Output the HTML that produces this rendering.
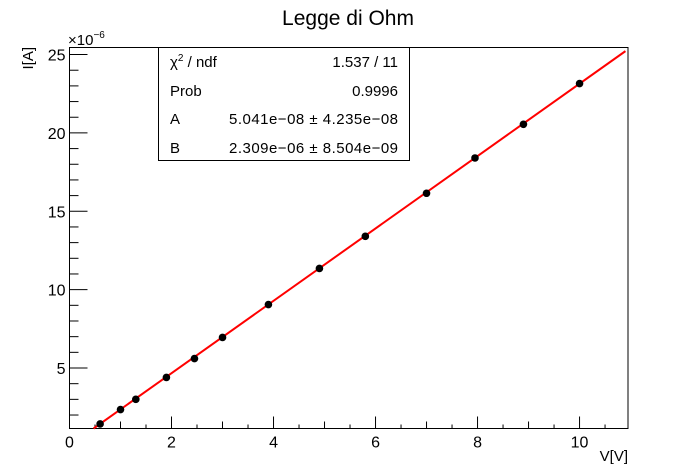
<!DOCTYPE html>
<html><head><meta charset="utf-8"><style>
body{margin:0;background:#fff;}
svg{display:block;font-family:"Liberation Sans",sans-serif;}
</style></head><body>
<svg id="c" width="698" height="476" xmlns="http://www.w3.org/2000/svg">
<text x="348" y="25" font-size="21" text-anchor="middle">Legge di Ohm</text>
<rect x="69.5" y="47.5" width="558.5" height="381" fill="none" stroke="#000" stroke-width="1"/>
<g id="axes"></g>
<g id="fit"></g>
<g id="pts"></g>
<text x="628" y="461" font-size="15" text-anchor="end">V[V]</text>
<text transform="translate(33,47) rotate(-90)" font-size="15" text-anchor="end">I[A]</text>
<text x="68" y="45" font-size="15">×10<tspan dy="-7" font-size="10">−6</tspan></text>
<g>
<rect x="158.5" y="47.5" width="251" height="113" fill="#fff" stroke="#000"/>
<text x="170" y="67" font-size="15">χ<tspan dy="-6" font-size="10">2</tspan><tspan dy="6"> / ndf</tspan></text>
<text x="398" y="67" font-size="15" text-anchor="end">1.537 / 11</text>
<text x="170" y="96" font-size="15">Prob</text>
<text x="398" y="96" font-size="15" text-anchor="end">0.9996</text>
<text x="170" y="124" font-size="15">A</text>
<text x="398" y="124" font-size="15" text-anchor="end" textLength="169">5.041e−08 ± 4.235e−08</text>
<text x="170" y="153" font-size="15">B</text>
<text x="398" y="153" font-size="15" text-anchor="end" textLength="169">2.309e−06 ± 8.504e−09</text>
</g>
</svg>
<script>
const xVals=[0.6,1.0,1.3,1.9,2.45,3.0,3.9,4.9,5.8,7.0,7.95,8.9,10.0];
const yVals=[1.43,2.35,3.0,4.4,5.6,6.95,9.05,11.35,13.4,16.15,18.4,20.55,23.15];
const xTicks=[0,2,4,6,8,10];
const yTicks=[5,10,15,20,25];
const fitA=0.05041, fitB=2.309;
const X0=69.5,X1=628,Y0=428.5,Y1=47.5,xmin=0,xmax=10.95,ymin=1.14,ymax=25.45;
const sx=v=>X0+(v-xmin)/(xmax-xmin)*(X1-X0);
const sy=v=>Y0-(v-ymin)/(ymax-ymin)*(Y0-Y1);
const NS="http://www.w3.org/2000/svg";
function mk(t,a,p){const e=document.createElementNS(NS,t);for(const k in a)e.setAttribute(k,a[k]);p.appendChild(e);return e;}
const ax=document.getElementById('axes');
for(let v=0.5;v<=xmax;v+=0.5){if(Math.abs(v/2-Math.round(v/2))<1e-6)continue;const x=sx(v);const l=Math.abs(v-Math.round(v))<1e-6?7:4;
const e=mk('line',{x1:x,x2:x,y1:Y0,y2:Y0-l,stroke:'#000'},ax);

}
xTicks.forEach(v=>{const x=sx(v);
const e=mk('line',{x1:x,x2:x,y1:Y0,y2:Y0-12,stroke:'#000'},ax);


const t=mk('text',{x:x,y:Y0+19,'font-size':16,'text-anchor':'middle'},ax);t.textContent=v;

});
for(let v=2;v<=25;v+=1){if(v%5===0)continue;const y=sy(v);
const e=mk('line',{x1:X0,x2:X0+9,y1:y,y2:y,stroke:'#000'},ax);

}
yTicks.forEach(v=>{const y=sy(v);
const e=mk('line',{x1:X0,x2:X0+18,y1:y,y2:y,stroke:'#000'},ax);


const t=mk('text',{x:X0-4,y:y+6,'font-size':16,'text-anchor':'end'},ax);t.textContent=v;

});
const xs=(ymin-fitA)/fitB;
const fl=mk('line',{x1:sx(xs),y1:sy(ymin),x2:sx(10.9),y2:sy(fitA+fitB*10.9),stroke:'#f00','stroke-width':2},document.getElementById('fit'));


const pg=document.getElementById('pts');
xVals.forEach((v,i)=>{const c=mk('circle',{cx:sx(v),cy:sy(yVals[i]),r:3.8,fill:'#000'},pg);

});
</script>
</body></html>
